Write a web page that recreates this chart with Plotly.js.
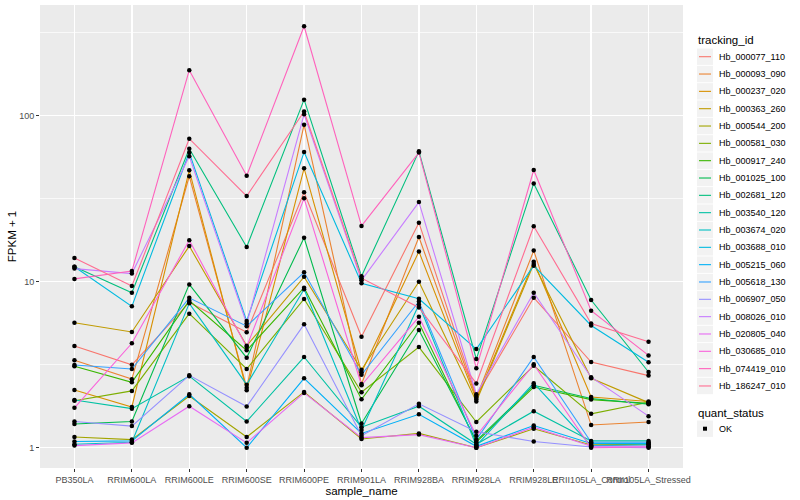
<!DOCTYPE html>
<html>
<head>
<meta charset="utf-8">
<script src="https://cdn.plot.ly/plotly-3.0.1.min.js"></script>
<style>html,body{margin:0;padding:0;background:#fff;}#chart{width:800px;height:500px;}</style>
</head>
<body>
<div id="chart"></div>
<script>
// categories (x axis)
const sampleNames = ["PB350LA","RRIM600LA","RRIM600LE","RRIM600SE","RRIM600PE","RRIM901LA","RRIM928BA","RRIM928LA","RRIM928LE","RRII105LA_Control","RRII105LA_Stressed"];

// series values (FPKM + 1), one array per tracking_id, in sampleNames order
const Hb_000077_110 = [4.10, 3.16, 7.5, 4.96, 34.6, 4.66, 22.7, 2.05, 8.01, 3.28, 2.72];
const Hb_000093_090 = [3.37, 2.59, 43.2, 2.30, 88.3, 2.42, 18.6, 2.0, 15.4, 1.37, 1.43];
const Hb_000237_020 = [2.23, 1.76, 46.9, 2.22, 48.2, 2.85, 15.2, 1.95, 13.2, 2.02, 1.90];
const Hb_000363_260 = [5.66, 4.98, 16.4, 4.11, 10.7, 2.95, 10.0, 1.90, 12.8, 2.62, 1.87];
const Hb_000544_200 = [1.16, 1.12, 2.05, 1.16, 2.17, 1.13, 1.22, 1.0, 1.30, 1.04, 1.05];
const Hb_000581_030 = [1.92, 2.20, 6.42, 2.98, 7.87, 2.16, 4.04, 1.43, 3.12, 1.60, 1.88];
const Hb_000917_240 = [3.10, 2.48, 7.7, 3.86, 9.2, 1.96, 5.66, 1.08, 2.32, 1.95, 1.85];
const Hb_001025_100 = [1.39, 1.44, 9.64, 3.48, 18.4, 1.40, 5.12, 1.10, 2.38, 1.98, 1.83];
const Hb_002681_120 = [12.3, 8.58, 63.2, 16.2, 125, 10.8, 61, 3.42, 39.1, 7.76, 2.86];
const Hb_003540_120 = [1.94, 1.72, 2.70, 1.44, 3.52, 1.33, 1.78, 1.05, 1.66, 1.10, 1.10];
const Hb_003674_020 = [1.05, 1.08, 7.41, 2.40, 9.0, 1.28, 7.3, 1.03, 2.45, 1.03, 1.04];
const Hb_003688_010 = [12.3, 7.11, 60, 5.8, 60.4, 9.8, 7.9, 3.93, 12.5, 5.45, 3.27];
const Hb_005215_060 = [1.09, 1.10, 2.10, 1.0, 2.62, 1.22, 1.59, 1.02, 1.36, 1.06, 1.06];
const Hb_005618_130 = [3.15, 2.98, 8.0, 5.4, 11.4, 2.75, 7.6, 1.12, 3.52, 1.08, 1.08];
const Hb_006907_050 = [1.44, 1.35, 2.73, 1.77, 5.54, 1.18, 1.84, 1.25, 1.09, 1.01, 1.0];
const Hb_008026_010 = [12.0, 11.2, 57, 5.6, 102, 10.2, 30.2, 2.1, 8.59, 2.66, 1.55];
const Hb_020805_040 = [1.03, 1.07, 1.78, 1.07, 2.14, 1.15, 1.20, 1.0, 1.33, 1.02, 1.02];
const Hb_030685_010 = [1.74, 4.26, 17.8, 4.05, 31.8, 2.38, 6.15, 1.18, 3.18, 1.0, 1.01];
const Hb_074419_010 = [10.4, 11.6, 188, 43.5, 346, 21.7, 60, 3.01, 47.1, 6.69, 3.6];
const Hb_186247_010 = [13.9, 9.42, 72.7, 32.8, 106, 10.5, 7.0, 2.44, 21.6, 5.6, 4.35];

const trackingIds = ["Hb_000077_110","Hb_000093_090","Hb_000237_020","Hb_000363_260","Hb_000544_200","Hb_000581_030","Hb_000917_240","Hb_001025_100","Hb_002681_120","Hb_003540_120","Hb_003674_020","Hb_003688_010","Hb_005215_060","Hb_005618_130","Hb_006907_050","Hb_008026_010","Hb_020805_040","Hb_030685_010","Hb_074419_010","Hb_186247_010"];
const seriesValues = [Hb_000077_110,Hb_000093_090,Hb_000237_020,Hb_000363_260,Hb_000544_200,Hb_000581_030,Hb_000917_240,Hb_001025_100,Hb_002681_120,Hb_003540_120,Hb_003674_020,Hb_003688_010,Hb_005215_060,Hb_005618_130,Hb_006907_050,Hb_008026_010,Hb_020805_040,Hb_030685_010,Hb_074419_010,Hb_186247_010];
const quantStatus = ["OK"];

const colors = ["#F8766D","#EA8331","#D89000","#C09B00","#A3A500","#7CAE00","#39B600","#00BB4E","#00BF7D","#00C1A3","#00BFC4","#00BAE0","#00B0F6","#35A2FF","#9590FF","#C77CFF","#E76BF3","#FA62DB","#FF62BC","#FF6C91"];

const FONT = "Liberation Sans, Arial, Helvetica, sans-serif";
const W = 800, H = 500, ML = 40, MR = 117, MT = 5, MB = 32;
const PW = W - ML - MR, PH = H - MT - MB;
const px2x = p => (p - ML) / PW;      // pixel -> paper x
const px2y = p => (H - MB - p) / PH;  // pixel -> paper y

const traces = [];
trackingIds.forEach((id, i) => {
  traces.push({
    type: "scatter", mode: "lines", name: id,
    x: sampleNames, y: seriesValues[i],
    line: {color: colors[i], width: 1.1},
    showlegend: false, hoverinfo: "x+y+name"
  });
});
// all points in black
const ptsX = [], ptsY = [];
seriesValues.forEach(vals => vals.forEach((v, j) => { ptsX.push(sampleNames[j]); ptsY.push(v); }));
traces.push({
  type: "scatter", mode: "markers", name: quantStatus[0],
  x: ptsX, y: ptsY, marker: {color: "black", size: 4.5}, showlegend: false
});

// ggplot-style legends drawn as shapes + annotations
const shapes = [], annotations = [];
const keyL = 697, keyR = 713, txtX = 717;
const firstY = 56.7, step = 17.33;
annotations.push({xref: "paper", yref: "paper", x: px2x(696), y: px2y(40), xanchor: "left", yanchor: "middle",
  showarrow: false, text: "tracking_id", font: {family: FONT, size: 11.5, color: "#000"}});
trackingIds.forEach((id, i) => {
  const cy = firstY + step * i;
  shapes.push({type: "rect", xref: "paper", yref: "paper", x0: px2x(keyL), x1: px2x(keyR),
    y0: px2y(cy - 8.2), y1: px2y(cy + 8.2), fillcolor: "#F2F2F2", line: {width: 0}, layer: "above"});
  shapes.push({type: "line", xref: "paper", yref: "paper", x0: px2x(keyL + 2), x1: px2x(keyR - 2),
    y0: px2y(cy), y1: px2y(cy), line: {color: colors[i], width: 1.1}, layer: "above"});
  annotations.push({xref: "paper", yref: "paper", x: px2x(txtX), y: px2y(cy), xanchor: "left", yanchor: "middle",
    showarrow: false, text: id, font: {family: FONT, size: 9, color: "#000"}});
});
annotations.push({xref: "paper", yref: "paper", x: px2x(696), y: px2y(412.5), xanchor: "left", yanchor: "middle",
  showarrow: false, text: "quant_status", font: {family: FONT, size: 11.5, color: "#000"}});
const okY = 428.7;
shapes.push({type: "rect", xref: "paper", yref: "paper", x0: px2x(keyL), x1: px2x(keyR),
  y0: px2y(okY - 8.2), y1: px2y(okY + 8.2), fillcolor: "#F2F2F2", line: {width: 0}, layer: "above"});
shapes.push({type: "rect", xref: "paper", yref: "paper", x0: px2x(703), x1: px2x(707),
  y0: px2y(okY - 2), y1: px2y(okY + 2), fillcolor: "#000", line: {width: 0}, layer: "above"});
annotations.push({xref: "paper", yref: "paper", x: px2x(txtX), y: px2y(okY), xanchor: "left", yanchor: "middle",
  showarrow: false, text: quantStatus[0], font: {family: FONT, size: 9, color: "#000"}});

const layout = {
  width: W, height: H,
  margin: {l: ML, r: MR, t: MT, b: MB},
  paper_bgcolor: "#FFFFFF", plot_bgcolor: "#EBEBEB",
  font: {family: FONT, size: 9, color: "#4D4D4D"},
  showlegend: false,
  xaxis: {
    type: "category", tickmode: "array", tickvals: sampleNames, ticktext: sampleNames,
    range: [-0.6, 10.6], tickangle: 0,
    showgrid: true, gridcolor: "#FFFFFF", gridwidth: 1.4,
    ticks: "outside", ticklen: 3, tickcolor: "#333333", tickwidth: 1,
    tickfont: {family: FONT, size: 9, color: "#4D4D4D"},
    zeroline: false, showline: false, automargin: false,
    title: {text: "sample_name", font: {family: FONT, size: 11.5, color: "#000000"}, standoff: 0}
  },
  yaxis: {
    type: "log", range: [-0.122, 2.667],
    tickmode: "array", tickvals: [1, 10, 100], ticktext: ["1", "10", "100"],
    showgrid: true, gridcolor: "#FFFFFF", gridwidth: 1.4,
    minor: {tickmode: "array", tickvals: [3.1623, 31.623, 316.23], showgrid: true, gridcolor: "#FFFFFF", gridwidth: 0.7, ticks: ""},
    ticks: "outside", ticklen: 3, tickcolor: "#333333", tickwidth: 1,
    tickfont: {family: FONT, size: 9, color: "#4D4D4D"},
    zeroline: false, showline: false, automargin: false,
    title: {text: "FPKM + 1", font: {family: FONT, size: 11.5, color: "#000000"}, standoff: 0}
  },
  shapes: shapes,
  annotations: annotations
};
Plotly.newPlot("chart", traces, layout, {displayModeBar: false, staticPlot: true});
</script>
</body>
</html>
